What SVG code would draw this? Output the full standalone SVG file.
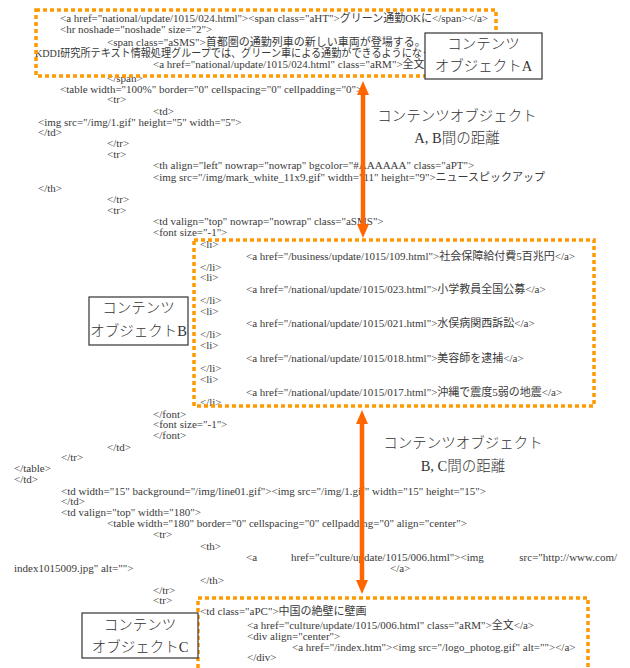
<svg xmlns="http://www.w3.org/2000/svg" width="630" height="668" viewBox="0 0 630 668">
<style>
.c{font-family:"Liberation Serif","Noto Sans CJK JP",serif;font-size:11px;fill:#3a3a3a}
.lb{font-family:"Liberation Serif","Noto Sans CJK JP",serif;font-size:14.5px;fill:#333;text-anchor:middle;font-weight:300}
.ob{fill:none;stroke:#FF9900;stroke-width:3.5;stroke-dasharray:4 3}
.box{fill:#fff;stroke:#333;stroke-width:1.2}
.arr{stroke:#FF6600;stroke-width:4.5;fill:none}
</style>
<defs>
<marker id="ah" viewBox="0 0 14 12" refX="2" refY="6" markerWidth="14" markerHeight="12" markerUnits="userSpaceOnUse" orient="auto-start-reverse">
<path d="M0,0 L14,6 L0,12 z" fill="#FF6600"/>
</marker>
</defs>
<rect width="630" height="668" fill="#fff"/>
<g id="code" class="c">
<text x="60" y="22">&lt;a href="national/update/1015/024.html"&gt;&lt;span class="aHT"&gt;グリーン通勤OKに&lt;/span&gt;&lt;/a&gt;</text>
<text x="60" y="33">&lt;hr noshade="noshade" size="2"&gt;</text>
<text x="107" y="46">&lt;span class="aSMS"&gt;首都圏の通勤列車の新しい車両が登場する。そ</text>
<text x="35" y="57" textLength="397" lengthAdjust="spacingAndGlyphs">KDDI研究所テキスト情報処理グループでは、グリーン車による通勤ができるようになっ</text>
<text x="153" y="68">&lt;a href="national/update/1015/024.html" class="aRM"&gt;全文</text>
<text x="107" y="82">&lt;/span&gt;</text>
<text x="60" y="93">&lt;table width="100%" border="0" cellspacing="0" cellpadding="0"&gt;</text>
<text x="107" y="103">&lt;tr&gt;</text>
<text x="153" y="115">&lt;td&gt;</text>
<text x="38" y="126">&lt;img src="/img/1.gif" height="5" width="5"&gt;</text>
<text x="38" y="136">&lt;/td&gt;</text>
<text x="107" y="147">&lt;/tr&gt;</text>
<text x="107" y="158">&lt;tr&gt;</text>
<text x="153" y="169">&lt;th align="left" nowrap="nowrap" bgcolor="#AAAAAA" class="aPT"&gt;</text>
<text x="153" y="180.5">&lt;img src="/img/mark_white_11x9.gif" width="11" height="9"&gt;ニュースピックアップ</text>
<text x="38" y="192">&lt;/th&gt;</text>
<text x="107" y="203">&lt;/tr&gt;</text>
<text x="107" y="214">&lt;tr&gt;</text>
<text x="153" y="225">&lt;td valign="top" nowrap="nowrap" class="aSMS"&gt;</text>
<text x="153" y="236">&lt;font size="-1"&gt;</text>
<text x="200" y="248">&lt;li&gt;</text>
<text x="246" y="260">&lt;a href="/business/update/1015/109.html"&gt;社会保障給付費5百兆円&lt;/a&gt;</text>
<text x="200" y="271">&lt;/li&gt;</text>
<text x="200" y="281">&lt;li&gt;</text>
<text x="246" y="293">&lt;a href="/national/update/1015/023.html"&gt;小学教員全国公募&lt;/a&gt;</text>
<text x="200" y="304">&lt;/li&gt;</text>
<text x="200" y="315">&lt;li&gt;</text>
<text x="246" y="327">&lt;a href="/national/update/1015/021.html"&gt;水俣病関西訴訟&lt;/a&gt;</text>
<text x="200" y="338">&lt;/li&gt;</text>
<text x="200" y="349">&lt;li&gt;</text>
<text x="246" y="362">&lt;a href="/national/update/1015/018.html"&gt;美容師を逮捕&lt;/a&gt;</text>
<text x="200" y="372">&lt;/li&gt;</text>
<text x="200" y="383">&lt;li&gt;</text>
<text x="246" y="396">&lt;a href="/national/update/1015/017.html"&gt;沖縄で震度5弱の地震&lt;/a&gt;</text>
<text x="200" y="406">&lt;/li&gt;</text>
<text x="153" y="418">&lt;/font&gt;</text>
<text x="153" y="428">&lt;font size="-1"&gt;</text>
<text x="153" y="439">&lt;/font&gt;</text>
<text x="107" y="451">&lt;/td&gt;</text>
<text x="61" y="461">&lt;/tr&gt;</text>
<text x="14" y="472">&lt;/table&gt;</text>
<text x="14" y="483">&lt;/td&gt;</text>
<text x="61" y="495">&lt;td width="15" background="/img/line01.gif"&gt;&lt;img src="/img/1.gif" width="15" height="15"&gt;</text>
<text x="61" y="505">&lt;/td&gt;</text>
<text x="61" y="516">&lt;td valign="top" width="180"&gt;</text>
<text x="107" y="527">&lt;table width="180" border="0" cellspacing="0" cellpadding="0" align="center"&gt;</text>
<text x="153" y="538">&lt;tr&gt;</text>
<text x="200" y="550">&lt;th&gt;</text>
<text x="246" y="561">&lt;a</text>
<text x="291" y="561">href="culture/update/1015/006.html"&gt;&lt;img</text>
<text x="617" y="561" text-anchor="end">src="http://www.com/</text>
<text x="14" y="572">index1015009.jpg" alt=""&gt;</text>
<text x="390" y="572">&lt;/a&gt;</text>
<text x="200" y="584">&lt;/th&gt;</text>
<text x="153" y="594">&lt;/tr&gt;</text>
<text x="153" y="604">&lt;tr&gt;</text>
<text x="200" y="615">&lt;td class="aPC"&gt;中国の絶壁に壁画</text>
<text x="247" y="629">&lt;a href="culture/update/1015/006.html" class="aRM"&gt;全文&lt;/a&gt;</text>
<text x="247" y="640">&lt;div align="center"&gt;</text>
<text x="292" y="651">&lt;a href="/index.htm"&gt;&lt;img src="/logo_photog.gif" alt=""&gt;&lt;/a&gt;</text>
<text x="247" y="661">&lt;/div&gt;</text>
</g>
<g id="connectors">
<g id="distAB">
<line class="arr" x1="363" y1="93" x2="363" y2="226" marker-start="url(#ah)" marker-end="url(#ah)"/>
<text class="lb" x="457" y="120.5">コンテンツオブジェクト</text>
<text class="lb" x="457" y="142.5">A, B間の距離</text>
</g>
<g id="distBC">
<line class="arr" x1="362" y1="422" x2="362" y2="582" marker-start="url(#ah)" marker-end="url(#ah)"/>
<text class="lb" x="463" y="447.5">コンテンツオブジェクト</text>
<text class="lb" x="463" y="470.5">B, C間の距離</text>
</g>
</g>
<g id="objA">
<rect class="ob" x="36" y="10" width="460" height="66"/>
<rect class="box" x="425" y="33" width="117" height="46"/>
<text class="lb" x="483.5" y="49">コンテンツ</text>
<text class="lb" x="483.5" y="71">オブジェクトA</text>
</g>
<g id="objB">
<rect class="ob" x="194" y="240" width="400" height="166"/>
<rect class="box" x="89" y="297" width="99" height="48"/>
<text class="lb" x="138.5" y="313">コンテンツ</text>
<text class="lb" x="138.5" y="336">オブジェクトB</text>
</g>
<g id="objC">
<rect class="ob" x="198" y="598" width="390" height="100"/>
<rect class="box" x="82" y="613" width="116" height="45"/>
<text class="lb" x="140" y="630">コンテンツ</text>
<text class="lb" x="140" y="652">オブジェクトC</text>
</g>
</svg>
